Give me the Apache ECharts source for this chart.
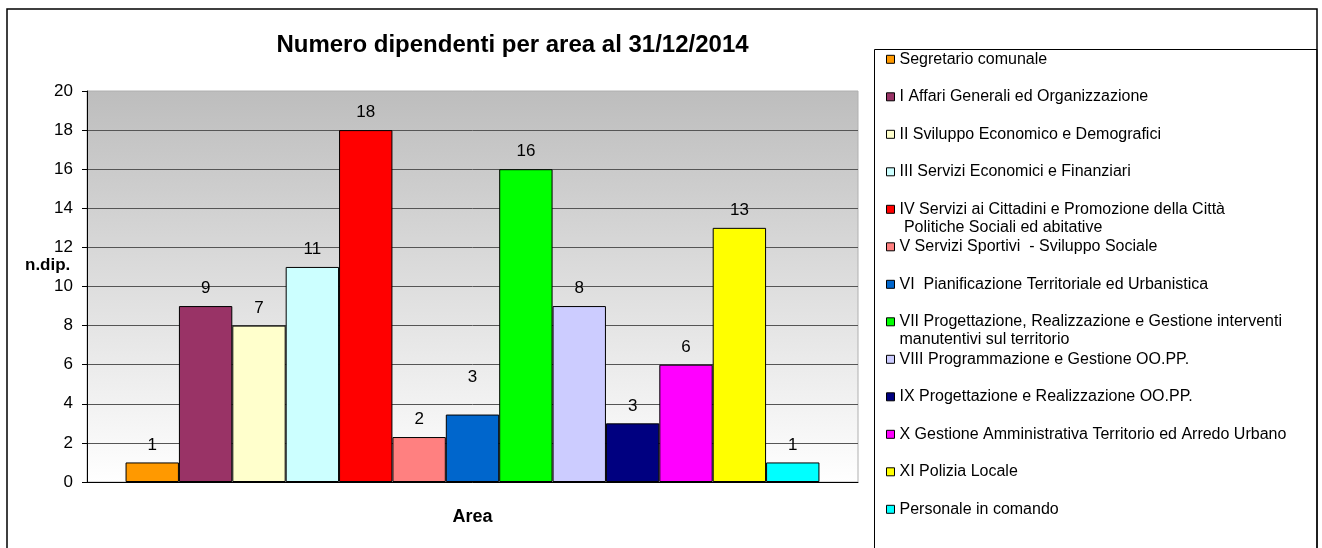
<!DOCTYPE html>
<html><head><meta charset="utf-8">
<script src="https://cdn.jsdelivr.net/npm/echarts@6/dist/echarts.min.js"></script>
<style>html,body{margin:0;padding:0;background:#fff}#c{width:1322px;height:548px}</style>
</head><body><div id="c"></div>
<script>
const chartTitle = 'Numero dipendenti per area al 31/12/2014';
const categories = ['Area'];
const yAxisName = 'n.dip.';
const yMin = 0, yMax = 20, yStep = 2;
const seriesNames = [
  'Segretario comunale',
  'I Affari Generali ed Organizzazione',
  'II Sviluppo Economico e Demografici',
  'III Servizi Economici e Finanziari',
  'IV Servizi ai Cittadini e Promozione della Città\n Politiche Sociali ed abitative',
  'V Servizi Sportivi  - Sviluppo Sociale',
  'VI  Pianificazione Territoriale ed Urbanistica',
  'VII Progettazione, Realizzazione e Gestione interventi\nmanutentivi sul territorio',
  'VIII Programmazione e Gestione OO.PP.',
  'IX Progettazione e Realizzazione OO.PP.',
  'X Gestione Amministrativa Territorio ed Arredo Urbano',
  'XI Polizia Locale',
  'Personale in comando'
];
const seriesValues = [1, 9, 8, 11, 18, 2.3, 3.45, 16, 9, 3, 6, 13, 1];
const labelTexts = ['1', '9', '7', '11', '18', '2', '3', '16', '8', '3', '6', '13', '1'];
const seriesColors = ['#FF9900', '#993366', '#FFFFCC', '#CCFFFF', '#FF0000', '#FF8080', '#0066CC',
  '#00FF00', '#CCCCFF', '#000080', '#FF00FF', '#FFFF00', '#00FFFF'];

const FONT = "'Liberation Sans', Arial, Helvetica, sans-serif";
const LEG_LH = 18;

const legends = seriesNames.map((n, i) => {
  const lines = n.split('\n').length;
  const shown = 2 * lines - 1;
  const cy = 59.3 + 37.5 * i;
  return {
    show: true, orient: 'vertical', left: 886, top: cy - shown * LEG_LH / 2, padding: 0,
    data: [n], icon: 'rect', itemWidth: 8, itemHeight: 8, itemGap: 0, selectedMode: false,
    formatter: nm => '\n'.repeat(lines - 1) + nm,
    textStyle: { fontFamily: FONT, fontSize: 16, lineHeight: LEG_LH, color: '#000' },
    itemStyle: { borderColor: '#000', borderWidth: 1 }
  };
});

const series = seriesNames.map((n, i) => ({
  name: n, type: 'bar', data: [seriesValues[i]],
  barGap: '0%', barCategoryGap: '10%',
  itemStyle: { color: seriesColors[i], borderColor: '#000', borderWidth: 1 },
  label: {
    show: true, position: 'top', distance: 9, offset: i === 6 ? [0, -20] : [0, 0],
    formatter: () => labelTexts[i], fontFamily: FONT, fontSize: 17, color: '#000'
  },
  emphasis: { disabled: true }
}));

const chart = echarts.init(document.getElementById('c'), null, { renderer: 'canvas' });
chart.setOption({
  animation: false,
  backgroundColor: '#fff',
  title: {
    text: chartTitle, left: 512.5, top: 32, padding: 0, textAlign: 'center',
    textStyle: { fontFamily: FONT, fontSize: 24, fontWeight: 'bold', color: '#000', lineHeight: 27 }
  },
  legend: legends,
  grid: {
    left: 87, top: 91, right: 1322 - 858, bottom: 548 - 482, containLabel: false,
    show: true, borderColor: '#b0b0b0', borderWidth: 1,
    backgroundColor: {
      type: 'linear', x: 0, y: 0, x2: 0, y2: 1,
      colorStops: [{ offset: 0, color: '#bdbdbd' }, { offset: 1, color: '#ffffff' }]
    }
  },
  xAxis: {
    type: 'category', data: categories,
    axisLabel: { show: false }, axisTick: { show: false },
    axisLine: { show: true, lineStyle: { color: '#000', width: 1 } },
    splitLine: { show: false },
    name: 'Area', nameLocation: 'middle', nameGap: 26,
    nameTextStyle: { fontFamily: FONT, fontSize: 18, fontWeight: 'bold', color: '#000' }
  },
  yAxis: {
    type: 'value', min: yMin, max: yMax, interval: yStep,
    axisLine: { show: true, lineStyle: { color: '#000', width: 1 } },
    axisTick: { show: true, inside: false, length: 5, lineStyle: { color: '#000' } },
    axisLabel: { fontFamily: FONT, fontSize: 17, color: '#000', margin: 14 },
    splitLine: { show: true, showMaxLine: false, lineStyle: { color: '#555', width: 1 } }
  },
  graphic: [
    { type: 'rect', shape: { x: 7, y: 9, width: 1310, height: 620 }, style: { fill: 'none', stroke: '#000', lineWidth: 1.5 }, z: 100 },
    { type: 'rect', shape: { x: 874.5, y: 49.5, width: 442.5, height: 600 }, style: { fill: 'none', stroke: '#000', lineWidth: 1 }, z: 100 },
    { type: 'text', x: 25, y: 265, style: { text: yAxisName, fontFamily: FONT, fontSize: 17, fontWeight: 'bold', fill: '#000', align: 'left', verticalAlign: 'middle' }, z: 100 }
  ],
  series: series
});
</script>
</body></html>
